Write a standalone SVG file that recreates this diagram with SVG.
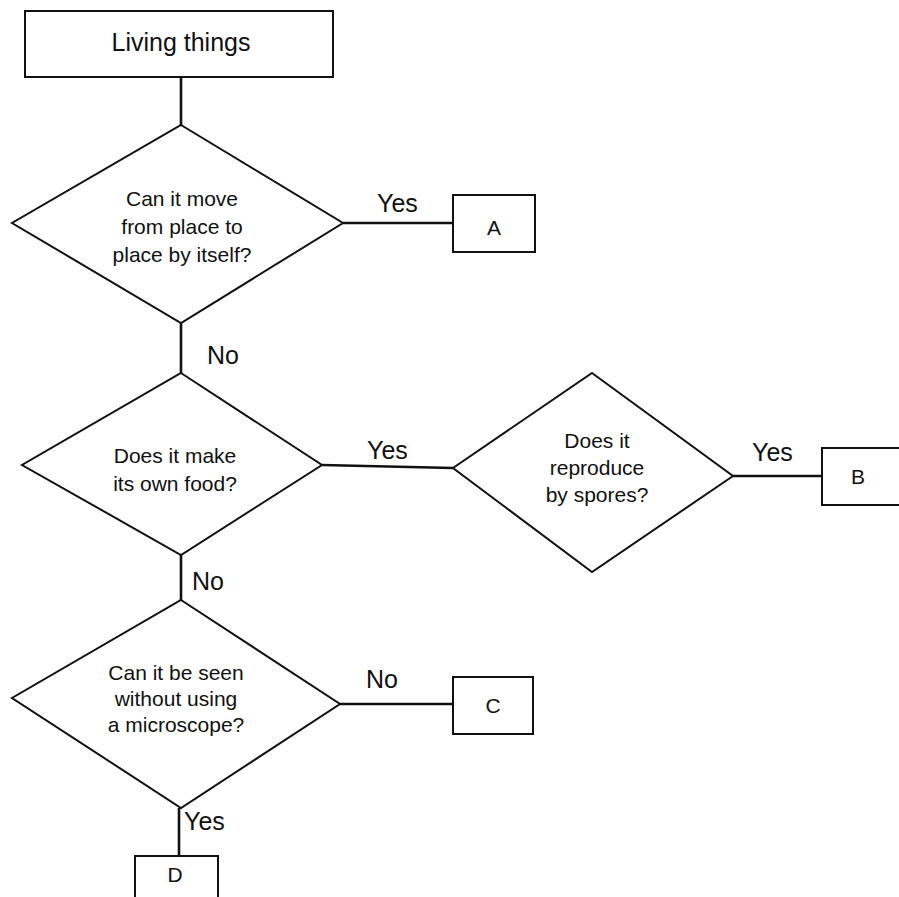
<svg xmlns="http://www.w3.org/2000/svg" width="899" height="897" viewBox="0 0 899 897">
<style>
.box{fill:#fff;stroke:#111;stroke-width:2}
.dia{fill:#fff;stroke:#111;stroke-width:2}
.ln{stroke:#111;stroke-width:2.6;fill:none}
.t{font-family:"Liberation Sans",Arial,sans-serif;font-size:21px;fill:#111;text-anchor:middle}
.big{font-size:25px}
.bx{font-size:21px}
.lbl{font-family:"Liberation Sans",Arial,sans-serif;font-size:25px;fill:#111}
</style>
<rect width="899" height="897" fill="#fff"/>
<g id="connectors">
<line class="ln" x1="181" y1="77" x2="181" y2="125"/>
<line class="ln" x1="343" y1="223" x2="453" y2="223"/>
<line class="ln" x1="181" y1="323" x2="181" y2="373"/>
<line class="ln" x1="322" y1="465" x2="453" y2="468"/>
<line class="ln" x1="733" y1="476" x2="822" y2="476"/>
<line class="ln" x1="181" y1="555" x2="181" y2="600"/>
<line class="ln" x1="340" y1="704" x2="453" y2="704"/>
<line class="ln" x1="179" y1="808" x2="179" y2="856"/>
<text class="lbl" x="377" y="212">Yes</text>
<text class="lbl" x="207" y="364">No</text>
<text class="lbl" x="367" y="459">Yes</text>
<text class="lbl" x="752" y="461">Yes</text>
<text class="lbl" x="192" y="590">No</text>
<text class="lbl" x="366" y="688">No</text>
<text class="lbl" x="184" y="830">Yes</text>
</g>
<g id="living">
<rect class="box" x="25" y="11" width="308" height="66"/>
<text class="t big" x="181" y="51">Living things</text>
</g>
<g id="q1">
<polygon class="dia" points="181,125 343,223 181,323 12,223"/>
<text class="t" x="182" y="206">Can it move</text>
<text class="t" x="182" y="234">from place to</text>
<text class="t" x="182" y="262">place by itself?</text>
</g>
<g id="A">
<rect class="box" x="453" y="195" width="82" height="57"/>
<text class="t bx" x="494" y="235">A</text>
</g>
<g id="q2">
<polygon class="dia" points="181,373 322,465 181,555 22,465"/>
<text class="t" x="175" y="463">Does it make</text>
<text class="t" x="175" y="491">its own food?</text>
</g>
<g id="q3">
<polygon class="dia" points="592,373 733,476 592,572 453,468"/>
<text class="t" x="597" y="448">Does it</text>
<text class="t" x="597" y="475">reproduce</text>
<text class="t" x="597" y="502">by spores?</text>
</g>
<g id="B">
<rect class="box" x="822" y="448" width="90" height="57"/>
<text class="t bx" x="858" y="484">B</text>
</g>
<g id="q4">
<polygon class="dia" points="181,600 340,704 181,808 12,698"/>
<text class="t" x="176" y="680">Can it be seen</text>
<text class="t" x="176" y="706">without using</text>
<text class="t" x="176" y="732">a microscope?</text>
</g>
<g id="C">
<rect class="box" x="453" y="677" width="80" height="57"/>
<text class="t bx" x="493" y="713">C</text>
</g>
<g id="D">
<rect class="box" x="135" y="856" width="83" height="50"/>
<text class="t bx" x="175" y="882">D</text>
</g>
</svg>
